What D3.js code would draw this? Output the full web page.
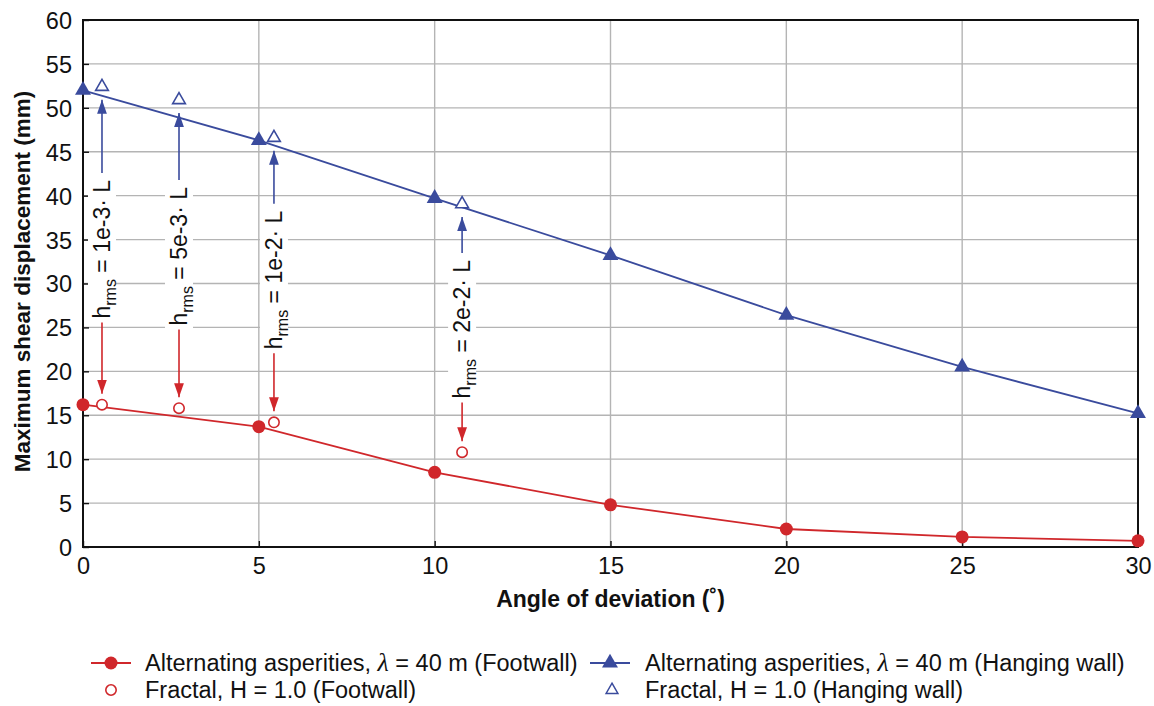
<!DOCTYPE html>
<html>
<head>
<meta charset="utf-8">
<script src="https://cdn.jsdelivr.net/npm/d3@7/dist/d3.min.js"></script>
<style>
  html, body { margin: 0; padding: 0; background: #fff; }
  svg { display: block; font-family: "Liberation Sans", Arial, sans-serif; }
</style>
</head>
<body>
<svg id="chart" width="1154" height="706"></svg>
<script>
// Angle of deviation (degrees) for the alternating-asperity model
const angles = [0, 5, 10, 15, 20, 25, 30];
// Maximum shear displacement (mm)
const footwall = [16.2, 13.7, 8.5, 4.8, 2.05, 1.15, 0.7];
const hangingWall = [52.0, 46.3, 39.7, 33.2, 26.4, 20.5, 15.2];

// Fractal surfaces, H = 1.0, one per roughness amplitude
const fractalAngles = [0.54, 2.73, 5.43, 10.78];
const fractalFootwall = [16.2, 15.8, 14.2, 10.8];
const fractalHangingWall = [52.4, 50.9, 46.6, 39.05];
const roughnessLabels = ["1e-3", "5e-3", "1e-2", "2e-2"];
const labelCentres = [33.9, 33.1, 30.4, 24.8];

const xTicks = [0, 5, 10, 15, 20, 25, 30];
const yTicks = [0, 5, 10, 15, 20, 25, 30, 35, 40, 45, 50, 55, 60];

const RED = "#d0272b";
const BLUE = "#3a4b9d";
const GRID = "#b4b4b4";
const FS = 23.5;

const svg = d3.select("#chart");
const x = d3.scaleLinear().domain([0, 30]).range([83, 1138]);
const y = d3.scaleLinear().domain([0, 60]).range([547, 20]);

// gridlines
svg.append("g").selectAll("line.v").data(xTicks.slice(1, -1)).join("line")
  .attr("x1", d => x(d)).attr("x2", d => x(d))
  .attr("y1", y(60)).attr("y2", y(0))
  .attr("stroke", GRID).attr("stroke-width", 1.4);
svg.append("g").selectAll("line.h").data(yTicks.slice(1, -1)).join("line")
  .attr("x1", x(0)).attr("x2", x(30))
  .attr("y1", d => y(d)).attr("y2", d => y(d))
  .attr("stroke", GRID).attr("stroke-width", 1.4);

// axes with inward ticks
const yAxis = svg.append("g").attr("transform", `translate(${x(0)},0)`)
  .call(d3.axisLeft(y).tickValues(yTicks).tickSizeInner(-6).tickSizeOuter(0).tickPadding(11));
const xAxis = svg.append("g").attr("transform", `translate(0,${y(0)})`)
  .call(d3.axisBottom(x).tickValues(xTicks).tickSizeInner(-6).tickSizeOuter(0).tickPadding(10));
[xAxis, yAxis].forEach(a => {
  a.select(".domain").remove();
  a.selectAll(".tick line").attr("stroke", "#111").attr("stroke-width", 1.4);
  a.selectAll(".tick text").attr("font-size", FS).attr("fill", "#111")
    .attr("font-family", "Liberation Sans, Arial, sans-serif");
});
yAxis.selectAll(".tick text").attr("dy", "0.36em");

// plot frame
svg.append("rect").attr("x", x(0)).attr("y", y(60))
  .attr("width", x(30) - x(0)).attr("height", y(0) - y(60))
  .attr("fill", "none").attr("stroke", "#111").attr("stroke-width", 2);

// axis titles
svg.append("text").attr("x", (x(0) + x(30)) / 2).attr("y", 607)
  .attr("text-anchor", "middle").attr("font-size", 23).attr("font-weight", "bold")
  .attr("fill", "#111").text("Angle of deviation (˚)");
svg.append("text").attr("transform", `translate(30,${(y(0) + y(60)) / 2 - 2}) rotate(-90)`)
  .attr("text-anchor", "middle").attr("font-size", 22.5).attr("font-weight", "bold")
  .attr("fill", "#111").text("Maximum shear displacement (mm)");

// arrow heads
const defs = svg.append("defs");
[["arrRed", RED], ["arrBlue", BLUE]].forEach(([id, c]) => {
  defs.append("marker").attr("id", id).attr("viewBox", "0 0 10 10")
    .attr("refX", 10).attr("refY", 5).attr("markerWidth", 14).attr("markerHeight", 14)
    .attr("markerUnits", "userSpaceOnUse").attr("orient", "auto")
    .append("path").attr("d", "M0,1.5 L10,5 L0,8.5 Z").attr("fill", c);
});

// roughness annotations
const ann = svg.append("g");
fractalAngles.forEach((a, i) => {
  const cx = x(a);
  const g = ann.append("g");
  const t = g.append("text")
    .attr("transform", `translate(${cx},${y(labelCentres[i])}) rotate(-90)`)
    .attr("text-anchor", "middle").attr("dy", "0.36em")
    .attr("font-size", 23).attr("fill", "#111");
  t.append("tspan").text("h");
  t.append("tspan").attr("font-size", 16).attr("dy", 6).text("rms");
  t.append("tspan").attr("dy", -6).text(" = " + roughnessLabels[i] + "· L");
  const len = t.node().getComputedTextLength();
  const top = y(labelCentres[i]) - len / 2;
  const bottom = y(labelCentres[i]) + len / 2;
  g.insert("rect", "text").attr("x", cx - 14).attr("y", top - 4)
    .attr("width", 28).attr("height", len + 8).attr("fill", "#fff");
  g.append("line").attr("x1", cx).attr("x2", cx)
    .attr("y1", top - 7).attr("y2", y(fractalHangingWall[i]) + 13)
    .attr("stroke", BLUE).attr("stroke-width", 1.6).attr("marker-end", "url(#arrBlue)");
  g.append("line").attr("x1", cx).attr("x2", cx)
    .attr("y1", bottom + 4).attr("y2", y(fractalFootwall[i]) - 11)
    .attr("stroke", RED).attr("stroke-width", 1.6).attr("marker-end", "url(#arrRed)");
});

// series lines
const line = d3.line().x(d => x(d[0])).y(d => y(d[1]));
svg.append("path").datum(d3.zip(angles, footwall)).attr("d", line)
  .attr("fill", "none").attr("stroke", RED).attr("stroke-width", 1.8);
svg.append("path").datum(d3.zip(angles, hangingWall)).attr("d", line)
  .attr("fill", "none").attr("stroke", BLUE).attr("stroke-width", 1.8);

const tri = d3.symbol().type(d3.symbolTriangle);
// filled markers
svg.append("g").selectAll("circle").data(d3.zip(angles, footwall)).join("circle")
  .attr("cx", d => x(d[0])).attr("cy", d => y(d[1])).attr("r", 6.5).attr("fill", RED);
svg.append("g").selectAll("path").data(d3.zip(angles, hangingWall)).join("path")
  .attr("transform", d => `translate(${x(d[0])},${y(d[1])})`)
  .attr("d", tri.size(110)).attr("fill", BLUE);
// hollow markers
svg.append("g").selectAll("circle").data(d3.zip(fractalAngles, fractalFootwall)).join("circle")
  .attr("cx", d => x(d[0])).attr("cy", d => y(d[1])).attr("r", 5.2)
  .attr("fill", "#fff").attr("stroke", RED).attr("stroke-width", 1.6);
svg.append("g").selectAll("path").data(d3.zip(fractalAngles, fractalHangingWall)).join("path")
  .attr("transform", d => `translate(${x(d[0])},${y(d[1])})`)
  .attr("d", d3.symbol().type(d3.symbolTriangle).size(70)).attr("fill", "#fff")
  .attr("stroke", BLUE).attr("stroke-width", 1.6);

// legend
const leg = svg.append("g").attr("font-size", FS).attr("fill", "#111");
function legendLabel(g, xPos, yPos, pre, post) {
  const t = g.append("text").attr("x", xPos).attr("y", yPos).attr("dy", "0.35em");
  t.append("tspan").text(pre);
  if (post !== undefined) {
    t.append("tspan").attr("font-family", "Liberation Serif, serif").attr("font-style", "italic")
      .attr("font-size", 26).text("λ");
    t.append("tspan").text(post);
  }
}
const r1 = 663, r2 = 690;
leg.append("line").attr("x1", 91).attr("x2", 131).attr("y1", r1).attr("y2", r1)
  .attr("stroke", RED).attr("stroke-width", 1.8);
leg.append("circle").attr("cx", 111).attr("cy", r1).attr("r", 6.5).attr("fill", RED);
legendLabel(leg, 145, r1, "Alternating asperities, ", " = 40 m (Footwall)");
leg.append("line").attr("x1", 590).attr("x2", 630).attr("y1", r1).attr("y2", r1)
  .attr("stroke", BLUE).attr("stroke-width", 1.8);
leg.append("path").attr("transform", `translate(610,${r1})`).attr("d", tri.size(110)).attr("fill", BLUE);
legendLabel(leg, 645, r1, "Alternating asperities, ", " = 40 m (Hanging wall)");
leg.append("circle").attr("cx", 111).attr("cy", r2).attr("r", 5.2)
  .attr("fill", "#fff").attr("stroke", RED).attr("stroke-width", 1.6);
legendLabel(leg, 145, r2, "Fractal, H = 1.0 (Footwall)");
leg.append("path").attr("transform", `translate(612,${r2})`)
  .attr("d", d3.symbol().type(d3.symbolTriangle).size(60)).attr("fill", "#fff")
  .attr("stroke", BLUE).attr("stroke-width", 1.5);
legendLabel(leg, 645, r2, "Fractal, H = 1.0 (Hanging wall)");
</script>
</body>
</html>
